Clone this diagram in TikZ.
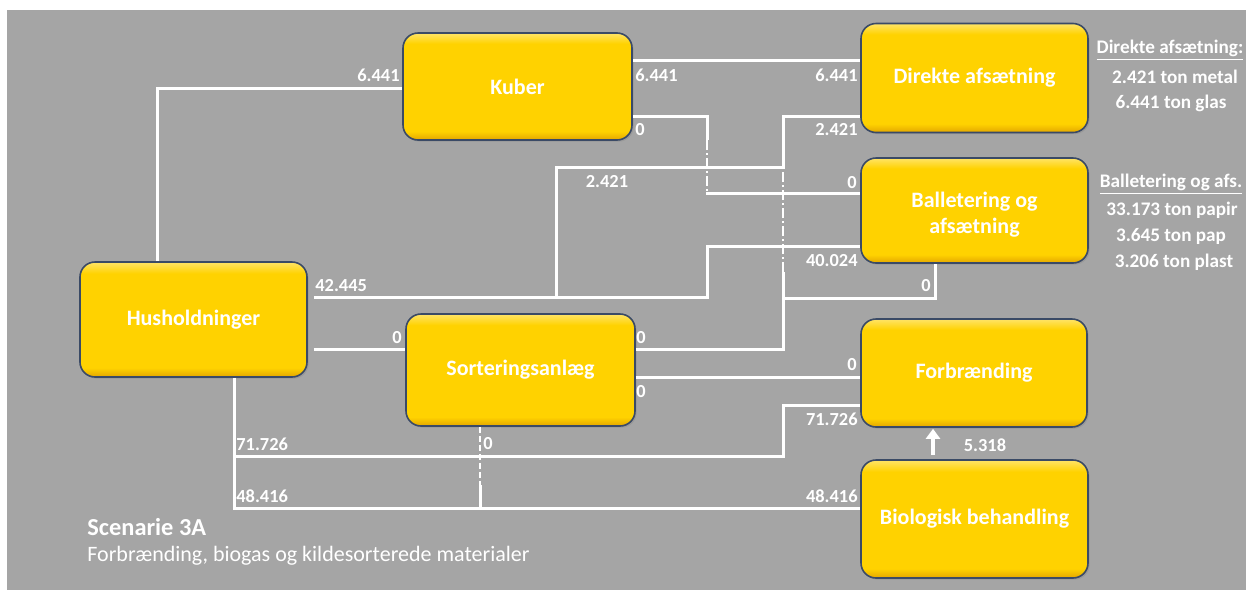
\documentclass[tikz,border=0pt]{standalone}
\usepackage{fontspec}
\setmainfont{Carlito}
\usetikzlibrary{arrows.meta,shadows}
\definecolor{bggray}{HTML}{A5A5A5}
\definecolor{boxedge}{HTML}{3A4A66}
\definecolor{boxtop}{HTML}{FFE468}
\definecolor{boxmid}{HTML}{FFD200}
\definecolor{boxbot}{HTML}{E3A600}
\pgfdeclareverticalshading{bevel}{100bp}{color(0bp)=(boxbot); color(25bp)=(boxbot); color(29bp)=(boxmid); color(70bp)=(boxmid); color(75bp)=(boxtop); color(100bp)=(boxtop)}
\newcommand\myboxfont{\fontsize{11}{13}\selectfont\bfseries}
\newcommand\myflowfont{\fontsize{9.2}{11}\selectfont\bfseries}
\newcommand\mysidefont{\fontsize{9.6}{11}\selectfont\bfseries}
\tikzset{
  box/.style={rectangle, rounded corners=7.5pt, draw=boxedge, line width=0.8pt,
    shading=bevel,
    inner sep=0pt, font=\myboxfont, text=white, align=center,
    drop shadow={shadow xshift=0.8pt, shadow yshift=-0.8pt, opacity=0.35}},
  boxtext/.style={inner sep=0pt, font=\myboxfont, text=white, align=center},
  flow/.style={draw=white, line width=1.5pt},
  zflow/.style={draw=white, line width=0.8pt, dash pattern=on 5pt off 1.5pt on 1pt off 1.5pt},
  uparrow/.style={draw=white, line width=2pt, -{Triangle[width=7pt,length=5pt]}},
  num/.style={font=\myflowfont, text=white, inner sep=0pt},
  side/.style={font=\mysidefont, text=white, inner sep=0pt, anchor=center},
}
\begin{document}
\begin{tikzpicture}[x=0.5pt,y=-0.5pt]
\useasboundingbox (0,0) rectangle (1246,590);
\fill[white] (0,0) rectangle (1246,590);
\fill[bggray] (7,10) rectangle (1246,590);

% boxes
\node[box, minimum width=114.5pt, minimum height=53.5pt] (kuber) at (517.5,86.5) {Kuber};
\node[box, minimum width=113.5pt, minimum height=57.5pt] (hush) at (193.5,319.5) {Husholdninger};
\node[box, minimum width=114.5pt, minimum height=56pt] (sort) at (520.5,370) {Sorteringsanlæg};
\node[box, minimum width=113.5pt, minimum height=54.5pt] (direkte) at (974.5,78) {\strut Direkte afsætning};
\node[box, minimum width=113.5pt, minimum height=52.5pt] (ballet) at (974.5,210.5) {};
\node[boxtext] (ballettxt) at (974.5,215) {Balletering og\\afsætning};
\node[box, minimum width=113pt, minimum height=54pt] (forb) at (974,373) {Forbrænding};
\node[box, minimum width=113.5pt, minimum height=59pt] (bio) at (974.5,519) {Biologisk behandling};

% connectors
\draw[flow] (hush.north -| 157,0) -- (157,88) -- (kuber.west |- 0,88);
\draw[flow] (kuber.east |- 0,60) -- (direkte.west |- 0,60);
\draw[flow] (kuber.east |- 0,116) -- (707,116) -- (707,140);
\draw[zflow] (707,140) -- (707,193);
\draw[flow] (706.3,193) -- (ballet.west |- 0,193);
\draw[flow] ([xshift=3pt]hush.east |- 0,297) -- (707,297) -- (707,246) -- (ballet.west |- 0,246);
\draw[flow] (556,297) -- (556,167) -- (783,167) -- (783,116) -- (direkte.west |- 0,116);
\draw[flow] (sort.east |- 0,349) -- (783,349) -- (783,272);
\draw[zflow] (783,272) -- (783,167);
\draw[flow] (783,298) -- (935,298) -- (ballet.south -| 935,0);
\draw[flow] ([xshift=3pt]hush.east |- 0,349) -- (sort.west |- 0,349);
\draw[flow] (sort.east |- 0,377) -- (forb.west |- 0,377);
\draw[flow] (hush.south -| 234,0) -- (234,508) -- (bio.west |- 0,508);
\draw[flow] (234,456) -- (783,456) -- (783,405) -- (forb.west |- 0,405);
\draw[zflow, line width=1.1pt, dash pattern=on 3pt off 1.5pt] (sort.south -| 480,0) -- (480,485);
\draw[flow] (480,485) -- (480,508);
\draw[uparrow, shorten <=2pt, shorten >=0.5pt] (bio.north -| 933,0) -- (forb.south -| 933,0);

% flow labels
\node[num, anchor=east] (l1) at (400,75) {6.441};
\node[num, anchor=west] (l2) at (635,75) {6.441};
\node[num, anchor=east] (l3) at (858,75) {6.441};
\node[num, anchor=west] (l4) at (635,130) {0};
\node[num, anchor=east] (l5) at (858,130) {2.421};
\node[num] (l6) at (607,182) {2.421};
\node[num, anchor=east] (l7) at (857,183) {0};
\node[num, anchor=east] (l8) at (858,261) {40.024};
\node[num, anchor=east] (l9) at (931,286) {0};
\node[num, anchor=west] (l10) at (315,286) {42.445};
\node[num, anchor=east] (l11) at (402,338) {0};
\node[num, anchor=west] (l12) at (636,338) {0};
\node[num, anchor=east] (l13) at (857,365) {0};
\node[num, anchor=west] (l14) at (636,392) {0};
\node[num, anchor=east] (l15) at (858,419) {71.726};
\node[num, anchor=west] (l16) at (236,444) {71.726};
\node[num, anchor=west] (l17) at (236,496) {48.416};
\node[num, anchor=east] (l18) at (858,496) {48.416};
\node[num, anchor=west] (l19) at (483,444) {0};
\node[num] (l20) at (985,445) {5.318};

% side notes
\node[side] (s1) at (1170,50) {\underline{Direkte afsætning:}};
\node[side] (s2) at (1175,77) {2.421 ton metal};
\node[side] (s3) at (1171,103) {6.441 ton glas};
\node[side] (s4) at (1171,184) {\underline{Balletering og afs.}};
\node[side] (s5) at (1172,210) {33.173 ton papir};
\node[side] (s6) at (1171,236) {3.645 ton pap};
\node[side] (s7) at (1174,262) {3.206 ton plast};

% title
\node[anchor=west, inner sep=0pt, text=white, font=\fontsize{12.2}{14}\selectfont\bfseries] (t1) at (87,527) {Scenarie 3A};
\node[anchor=west, inner sep=0pt, text=white, font=\fontsize{11}{13}\selectfont] (t2) at (87,556) {Forbrænding, biogas og kildesorterede materialer};
\end{tikzpicture}
\end{document}
